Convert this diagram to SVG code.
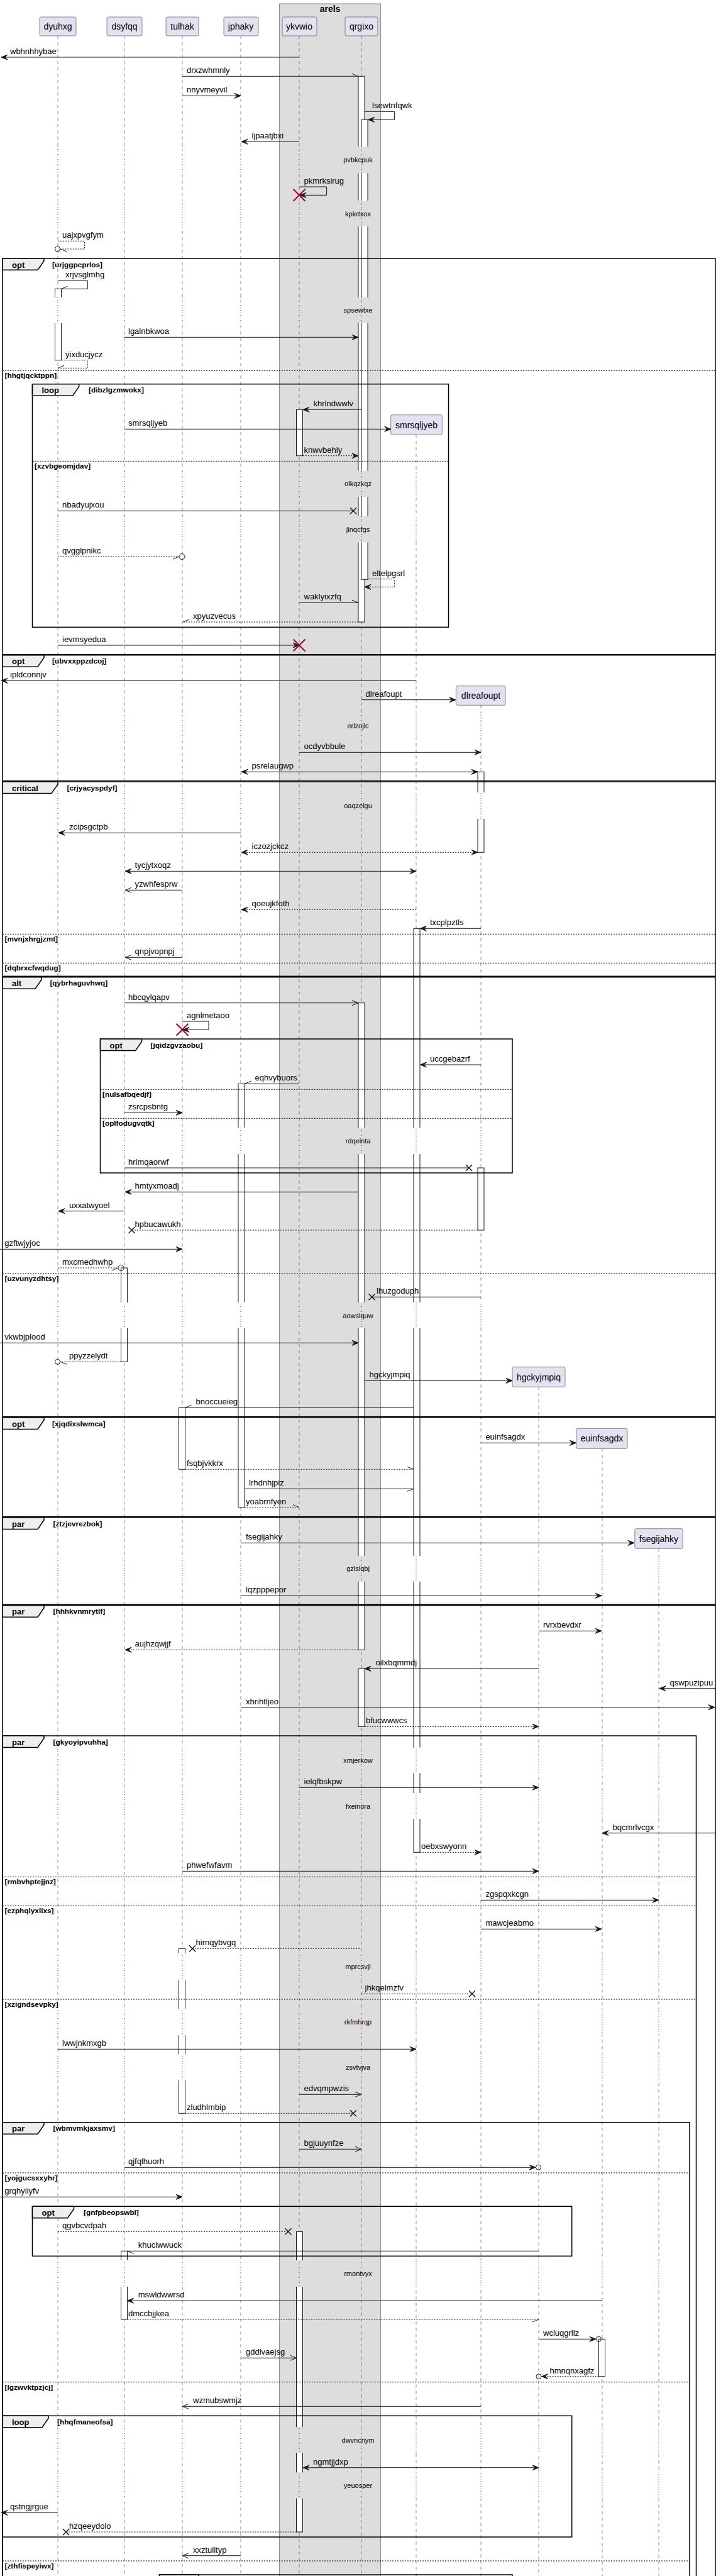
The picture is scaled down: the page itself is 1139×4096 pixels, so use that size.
<svg xmlns="http://www.w3.org/2000/svg" width="1139" height="4096" viewBox="0 0 1139 4096">
<style>
text{font-family:"Liberation Sans",Arial,sans-serif;fill:#000}
.pb{fill:#E2E2F0;stroke:#181818;stroke-width:0.5}
.pt{font-size:14px;text-anchor:middle}
.ll{stroke:#181818;stroke-width:0.5;stroke-dasharray:5,5}
.lld{stroke:#A80036;stroke-width:1;stroke-dasharray:1,3}
.act{fill:#fff;stroke:#181818;stroke-width:1}
.m{fill:none;stroke:#181818;stroke-width:1}
.d{stroke-dasharray:2,2}
.ah{fill:#181818;stroke:#181818;stroke-width:1}
.ml{font-size:13px}
.dt{font-size:11px;text-anchor:middle}
.fr{fill:none;stroke:#000;stroke-width:1.5}
.tab{fill:#EEEEEE;stroke:#000;stroke-width:1.5}
.sep{stroke:#000;stroke-width:1;stroke-dasharray:2,2}
.gh{font-size:13px;font-weight:bold}
.gc{font-size:11.8px;font-weight:bold}
.dx{stroke:#A80036;stroke-width:2;fill:none}
.lx{stroke:#181818;stroke-width:1.5;fill:none}
.oc{fill:none;stroke:#181818;stroke-width:1}
</style>
<defs>
<mask id="mn" maskUnits="userSpaceOnUse" x="0" y="0" width="1139" height="4096">
<rect width="1139" height="4096" fill="#fff"/>
<g fill="#000">
<rect x="0" y="233" width="1139" height="42"/><rect x="0" y="319" width="1139" height="41"/><rect x="0" y="472.7" width="1139" height="41.3"/><rect x="0" y="748.7" width="1139" height="41.3"/><rect x="0" y="820.7" width="1139" height="41.6"/><rect x="0" y="1132.7" width="1139" height="41.6"/><rect x="0" y="1260" width="1139" height="42"/><rect x="0" y="1793.3" width="1139" height="41.7"/><rect x="0" y="2071" width="1139" height="41"/><rect x="0" y="2474" width="1139" height="40.7"/><rect x="0" y="2778.7" width="1139" height="40.6"/><rect x="0" y="2851" width="1139" height="41"/><rect x="0" y="3106" width="1139" height="42"/><rect x="0" y="3194" width="1139" height="42.3"/><rect x="0" y="3266.3" width="1139" height="41.7"/><rect x="0" y="3594" width="1139" height="42"/><rect x="0" y="3859.3" width="1139" height="41"/><rect x="0" y="3931.3" width="1139" height="41.4"/>
</g>
</mask>
<mask id="md" maskUnits="userSpaceOnUse" x="0" y="0" width="1139" height="4096">
<rect width="1139" height="4096" fill="#000"/>
<g fill="#fff">
<rect x="0" y="233" width="1139" height="42"/><rect x="0" y="319" width="1139" height="41"/><rect x="0" y="472.7" width="1139" height="41.3"/><rect x="0" y="748.7" width="1139" height="41.3"/><rect x="0" y="820.7" width="1139" height="41.6"/><rect x="0" y="1132.7" width="1139" height="41.6"/><rect x="0" y="1260" width="1139" height="42"/><rect x="0" y="1793.3" width="1139" height="41.7"/><rect x="0" y="2071" width="1139" height="41"/><rect x="0" y="2474" width="1139" height="40.7"/><rect x="0" y="2778.7" width="1139" height="40.6"/><rect x="0" y="2851" width="1139" height="41"/><rect x="0" y="3106" width="1139" height="42"/><rect x="0" y="3194" width="1139" height="42.3"/><rect x="0" y="3266.3" width="1139" height="41.7"/><rect x="0" y="3594" width="1139" height="42"/><rect x="0" y="3859.3" width="1139" height="41"/><rect x="0" y="3931.3" width="1139" height="41.4"/>
</g>
</mask>
</defs>
<rect width="1139" height="4096" fill="#fff"/>
<g id="box-arels">
<rect x="444.6" y="6" width="161" height="4100" fill="#DDDDDD" stroke="#888" stroke-width="1"/>
<text x="525" y="19" font-size="14" font-weight="bold" text-anchor="middle">arels</text>
</g>
<g id="lifelines">
<g class="ll" mask="url(#mn)">
<line x1="92" y1="57" x2="92" y2="4096"/><line x1="198" y1="57" x2="198" y2="4096"/><line x1="290" y1="57" x2="290" y2="4096"/><line x1="383" y1="57" x2="383" y2="4096"/><line x1="476" y1="57" x2="476" y2="4096"/><line x1="575" y1="57" x2="575" y2="4096"/><line x1="662" y1="691.3" x2="662" y2="4096"/><line x1="765" y1="1121.3" x2="765" y2="4096"/><line x1="857" y1="2205.3" x2="857" y2="4096"/><line x1="958" y1="2303.3" x2="958" y2="4096"/><line x1="1048" y1="2462.3" x2="1048" y2="4096"/>
</g>
<g class="lld" mask="url(#md)">
<line x1="92" y1="57" x2="92" y2="4096"/><line x1="198" y1="57" x2="198" y2="4096"/><line x1="290" y1="57" x2="290" y2="4096"/><line x1="383" y1="57" x2="383" y2="4096"/><line x1="476" y1="57" x2="476" y2="4096"/><line x1="575" y1="57" x2="575" y2="4096"/><line x1="662" y1="691.3" x2="662" y2="4096"/><line x1="765" y1="1121.3" x2="765" y2="4096"/><line x1="857" y1="2205.3" x2="857" y2="4096"/><line x1="958" y1="2303.3" x2="958" y2="4096"/><line x1="1048" y1="2462.3" x2="1048" y2="4096"/>
</g>
</g>
<g id="p-dyuhxg"><rect class="pb" x="63" y="27" width="58" height="30" rx="2.5"/><text class="pt" x="92" y="47">dyuhxg</text></g>
<g id="p-dsyfqq"><rect class="pb" x="170" y="27" width="56" height="30" rx="2.5"/><text class="pt" x="198" y="47">dsyfqq</text></g>
<g id="p-tulhak"><rect class="pb" x="264" y="27" width="52" height="30" rx="2.5"/><text class="pt" x="290" y="47">tulhak</text></g>
<g id="p-jphaky"><rect class="pb" x="356" y="27" width="55" height="30" rx="2.5"/><text class="pt" x="383" y="47">jphaky</text></g>
<g id="p-ykvwio"><rect class="pb" x="449" y="27" width="55" height="30" rx="2.5"/><text class="pt" x="476" y="47">ykvwio</text></g>
<g id="p-qrgixo"><rect class="pb" x="549" y="27" width="52" height="30" rx="2.5"/><text class="pt" x="575" y="47">qrgixo</text></g>
<g id="p-smrsqljyeb"><rect class="pb" x="621.7" y="659.7" width="81.6" height="31.6" rx="2.5"/><text class="pt" x="662.5" y="680.5">smrsqljyeb</text></g>
<g id="p-dlreafoupt"><rect class="pb" x="725.4" y="1090.7" width="78.6" height="30.6" rx="2.5"/><text class="pt" x="765" y="1111">dlreafoupt</text></g>
<g id="p-hgckyjmpiq"><rect class="pb" x="815" y="2173.7" width="84" height="31.6" rx="2.5"/><text class="pt" x="857" y="2194.5">hgckyjmpiq</text></g>
<g id="p-euinfsagdx"><rect class="pb" x="916.5" y="2271.3" width="81.5" height="32" rx="2.5"/><text class="pt" x="957.5" y="2292.3">euinfsagdx</text></g>
<g id="p-fsegijahky"><rect class="pb" x="1009.8" y="2430.7" width="76.4" height="31.6" rx="2.5"/><text class="pt" x="1048" y="2451.5">fsegijahky</text></g>
<g id="activations" mask="url(#mn)">
<rect class="act" x="570" y="121.3" width="10" height="867.7"/>
<rect class="act" x="575" y="190.3" width="10" height="731"/>
<rect class="act" x="87.5" y="459.3" width="10" height="113.4"/>
<rect class="act" x="471.5" y="651.3" width="10" height="73.4"/>
<rect class="act" x="760" y="1227.3" width="10" height="128"/>
<rect class="act" x="658" y="1476.3" width="10" height="1469"/>
<rect class="act" x="570" y="1594.7" width="10" height="1028.6"/>
<rect class="act" x="379" y="1723.3" width="10" height="673.4"/>
<rect class="act" x="760" y="1857" width="10" height="99"/>
<rect class="act" x="192.5" y="2016" width="10" height="149.3"/>
<rect class="act" x="284.5" y="2238.3" width="10" height="98"/>
<rect class="act" x="570" y="2653.3" width="10" height="92"/>
<rect class="act" x="284.5" y="3098.3" width="10" height="262"/>
<rect class="act" x="471.5" y="3548.3" width="10" height="477.7"/>
<rect class="act" x="192.5" y="3579.3" width="10" height="108.7"/>
<rect class="act" x="952.5" y="3719.3" width="10" height="59.4"/>
</g>
<g id="frames">
<rect class="fr" x="4" y="411" width="1134" height="629.7"/>
<path class="tab" d="M4,411H70V415L60,429.3H4Z"/><text class="gh" x="19" y="425.5">opt</text><text class="gc" x="83" y="424.5">[urjggpcprlos]</text>
<line class="sep" x1="4" y1="589.3" x2="1138" y2="589.3"/><text class="gc" x="7.5" y="601.3">[hhgtjqcktppn]</text>
<rect class="fr" x="51.5" y="610.7" width="662" height="386.6"/>
<path class="tab" d="M51.5,610.7H125.7V614.7L115.7,629.3H51.5Z"/><text class="gh" x="66.5" y="625.2">loop</text><text class="gc" x="141" y="624.2">[dibzlgzmwokx]</text>
<line class="sep" x1="51.5" y1="733.3" x2="713.5" y2="733.3"/><text class="gc" x="55" y="745.3">[xzvbgeomjdav]</text>
<rect class="fr" x="4" y="1041.7" width="1134" height="200"/>
<path class="tab" d="M4,1041.7H70V1045.7L60,1060.2H4Z"/><text class="gh" x="19" y="1056.2">opt</text><text class="gc" x="83" y="1055.2">[ubvxxppzdcoj]</text>
<rect class="fr" x="4" y="1243" width="1134" height="309.3"/>
<path class="tab" d="M4,1243H92V1247L82,1261.5H4Z"/><text class="gh" x="19" y="1257.5">critical</text><text class="gc" x="106.5" y="1256.5">[crjyacyspdyf]</text>
<line class="sep" x1="4" y1="1485.3" x2="1138" y2="1485.3"/><text class="gc" x="7.5" y="1497.3">[mvnjxhrgjzmt]</text>
<line class="sep" x1="4" y1="1531.3" x2="1138" y2="1531.3"/><text class="gc" x="7.5" y="1543.3">[dqbrxcfwqdug]</text>
<rect class="fr" x="4" y="1553.7" width="1134" height="699"/>
<path class="tab" d="M4,1553.7H66V1557.7L56,1572.2H4Z"/><text class="gh" x="19" y="1568.2">alt</text><text class="gc" x="79.4" y="1567.2">[qybrhaguvhwq]</text>
<line class="sep" x1="4" y1="2025" x2="1138" y2="2025"/><text class="gc" x="7.5" y="2037">[uzvunyzdhtsy]</text>
<rect class="fr" x="159.5" y="1652" width="655.5" height="213"/>
<path class="tab" d="M159.5,1652H225.6V1656L215.6,1670.5H159.5Z"/><text class="gh" x="174.5" y="1666.5">opt</text><text class="gc" x="239.6" y="1665.5">[jqidzgvzaobu]</text>
<line class="sep" x1="159.5" y1="1732.3" x2="815" y2="1732.3"/><text class="gc" x="163" y="1744.3">[nulsafbqedjf]</text>
<line class="sep" x1="159.5" y1="1778.3" x2="815" y2="1778.3"/><text class="gc" x="163" y="1790.3">[oplfodugvqtk]</text>
<rect class="fr" x="4" y="2254" width="1134" height="157.7"/>
<path class="tab" d="M4,2254H70V2258L60,2272.5H4Z"/><text class="gh" x="19" y="2268.5">opt</text><text class="gc" x="83" y="2267.5">[xjqdixslwmca]</text>
<rect class="fr" x="4" y="2413" width="1134" height="138.3"/>
<path class="tab" d="M4,2413H70V2417L60,2431.5H4Z"/><text class="gh" x="19" y="2427.5">par</text><text class="gc" x="84.5" y="2426.5">[ztzjevrezbok]</text>
<rect class="fr" x="4" y="2552.7" width="1134" height="1600"/>
<path class="tab" d="M4,2552.7H70V2556.7L60,2571.2H4Z"/><text class="gh" x="19" y="2567.2">par</text><text class="gc" x="84.5" y="2566.2">[hhhkvnmrytlf]</text>
<rect class="fr" x="4" y="2760" width="1103.5" height="1400"/>
<path class="tab" d="M4,2760H70V2764L60,2778.5H4Z"/><text class="gh" x="19" y="2774.5">par</text><text class="gc" x="84.5" y="2773.5">[gkyoyipvuhha]</text>
<line class="sep" x1="4" y1="2984.3" x2="1107.5" y2="2984.3"/><text class="gc" x="7.5" y="2996.3">[rmbvhptejjnz]</text>
<line class="sep" x1="4" y1="3030.3" x2="1107.5" y2="3030.3"/><text class="gc" x="7.5" y="3042.3">[ezphqlyxlixs]</text>
<line class="sep" x1="4" y1="3179" x2="1107.5" y2="3179"/><text class="gc" x="7.5" y="3191">[xzigndsevpky]</text>
<rect class="fr" x="4" y="3374.7" width="1093" height="800"/>
<path class="tab" d="M4,3374.7H70V3378.7L60,3393.2H4Z"/><text class="gh" x="19" y="3389.2">par</text><text class="gc" x="84.5" y="3388.2">[wbmvmkjaxsmv]</text>
<line class="sep" x1="4" y1="3455" x2="1097" y2="3455"/><text class="gc" x="7.5" y="3467">[yojgucsxxyhr]</text>
<line class="sep" x1="4" y1="3787.7" x2="1097" y2="3787.7"/><text class="gc" x="7.5" y="3799.7">[lgzwvktpzjcj]</text>
<line class="sep" x1="4" y1="4072" x2="1097" y2="4072"/><text class="gc" x="7.5" y="4084">[zthfispeyiwx]</text>
<rect class="fr" x="51.5" y="3508.3" width="858.2" height="79"/>
<path class="tab" d="M51.5,3508.3H117.6V3512.3L107.6,3526.8H51.5Z"/><text class="gh" x="66.5" y="3522.8">opt</text><text class="gc" x="133" y="3521.8">[gnfpbeopswbl]</text>
<rect class="fr" x="4" y="3841.3" width="905.7" height="192.7"/>
<path class="tab" d="M4,3841.3H77V3845.3L67,3859.8H4Z"/><text class="gh" x="19" y="3855.8">loop</text><text class="gc" x="91" y="3854.8">[hhqfmaneofsa]</text>
<rect class="fr" x="253.5" y="4094" width="561.5" height="60"/>
<path class="tab" d="M253.5,4094H316V4098L306,4112.5H253.5Z"/>
</g>
<g id="delays">
<text class="dt" x="569.5" y="258">pvbkcpuk</text>
<text class="dt" x="569.5" y="343.5">kpkrtxox</text>
<text class="dt" x="569.5" y="497.4">spsewtxe</text>
<text class="dt" x="569.5" y="773.4">olkqzkqz</text>
<text class="dt" x="569.5" y="845.5">jinqcfgs</text>
<text class="dt" x="569.5" y="1157.5">erlzojlc</text>
<text class="dt" x="569.5" y="1285">oaqzelgu</text>
<text class="dt" x="569.5" y="1818">rdqeinta</text>
<text class="dt" x="569.5" y="2095.5">aowslquw</text>
<text class="dt" x="569.5" y="2498.4">gzlslqbj</text>
<text class="dt" x="569.5" y="2803">xmjerkow</text>
<text class="dt" x="569.5" y="2875.5">fxeinora</text>
<text class="dt" x="569.5" y="3131">mprcsvjl</text>
<text class="dt" x="569.5" y="3219">rkfmhrqp</text>
<text class="dt" x="569.5" y="3291">zsvtvjva</text>
<text class="dt" x="569.5" y="3619">rmontvyx</text>
<text class="dt" x="569.5" y="3884">dwvncnym</text>
<text class="dt" x="569.5" y="3956">yeuosper</text>
</g>
<g id="connectors">
<path class="m" d="M476,91H2"/><polygon class="ah" points="12,87 2,91 12,95 8,91"/><text class="ml" x="16" y="86">wbhnhhybae</text>
<path class="m" d="M290,121.3H570M560,117.3L570,121.3"/><text class="ml" x="297" y="116">drxzwhmnly</text>
<path class="m" d="M290,152.3H383"/><polygon class="ah" points="373,148.3 383,152.3 373,156.3 377,152.3"/><text class="ml" x="297" y="147">nnyvmeyvil</text>
<path class="m" d="M580,177.3H627.6V190.3H585.6"/><polygon class="ah" points="595.6,186.3 585.6,190.3 595.6,194.3 591.6,190.3"/><text class="ml" x="592" y="172">lsewtnfqwk</text>
<path class="m" d="M476,225.3H384"/><polygon class="ah" points="394,221.3 384,225.3 394,229.3 390,225.3"/><text class="ml" x="400.5" y="220">ljpaatjbxi</text>
<path class="m" d="M476,297H519.6V310.3H477"/><polygon class="ah" points="487,306.3 477,310.3 487,314.3 483,310.3"/><path class="dx" d="M466.5,300.8L485.5,319.8M466.5,319.8L485.5,300.8"/><text class="ml" x="483.5" y="292">pkmrksirug</text>
<path class="m d" d="M92,383.3H134.5V396H96"/><path class="m" d="M96,396L106,400"/><circle class="oc" cx="91.5" cy="396" r="4"/><text class="ml" x="99" y="378">uajxpvgfym</text>
<path class="m" d="M92,446.3H139.6V459.3H97.5M97.5,459.3L107.5,455.3"/><text class="ml" x="104" y="441">xrjvsglmhg</text>
<path class="m" d="M198,536.3H570"/><polygon class="ah" points="560,532.3 570,536.3 560,540.3 564,536.3"/><text class="ml" x="204" y="531">lgalnbkwoa</text>
<path class="m d" d="M97.5,572.7H139.6V585.3H92"/><path class="m" d="M92,585.3L102,581.3"/><text class="ml" x="104" y="567.7">yixducjycz</text>
<path class="m" d="M575,651.3H482"/><polygon class="ah" points="492,647.3 482,651.3 492,655.3 488,651.3"/><text class="ml" x="498.5" y="646">khrlndwwlv</text>
<path class="m" d="M198,682.3H621.7"/><polygon class="ah" points="611.7,678.3 621.7,682.3 611.7,686.3 615.7,682.3"/><text class="ml" x="204" y="677">smrsqljyeb</text>
<path class="m d" d="M482,724.7H570"/><polygon class="ah" points="560,720.7 570,724.7 560,728.7 564,724.7"/><text class="ml" x="483.5" y="719.7">knwvbehly</text>
<path class="m" d="M92,812.3H562"/><path class="lx" d="M557,807.3L567,817.3M557,817.3L567,807.3"/><text class="ml" x="99" y="807">nbadyujxou</text>
<path class="m d" d="M92,885H285"/><path class="m" d="M275,889L285,885"/><circle class="oc" cx="289.5" cy="885" r="4.5"/><text class="ml" x="99" y="880">qvgglpnikc</text>
<path class="m d" d="M585.5,920.7H627.6V933.3H580"/><polygon class="ah" points="590,929.3 580,933.3 590,937.3 586,933.3"/><text class="ml" x="592" y="915.7">eltelpgsrl</text>
<path class="m" d="M476,958.3H570M560,954.3L570,958.3"/><text class="ml" x="483.5" y="953">waklyixzfq</text>
<path class="m d" d="M570,989H291"/><path class="m" d="M291,989L301,985"/><text class="ml" x="307" y="984">xpyuzvecus</text>
<path class="m" d="M92,1026H476"/><polygon class="ah" points="466,1022 476,1026 466,1030 470,1026"/><path class="dx" d="M466.5,1016.5L485.5,1035.5M466.5,1035.5L485.5,1016.5"/><text class="ml" x="99" y="1021">ievmsyedua</text>
<path class="m" d="M662,1082.3H2"/><polygon class="ah" points="12,1078.3 2,1082.3 12,1086.3 8,1082.3"/><text class="ml" x="16" y="1077">ipldconnjv</text>
<path class="m" d="M575,1112.7H725"/><polygon class="ah" points="715,1108.7 725,1112.7 715,1116.7 719,1112.7"/><text class="ml" x="581.6" y="1107.7">dlreafoupt</text>
<path class="m" d="M476,1196.3H765"/><polygon class="ah" points="755,1192.3 765,1196.3 755,1200.3 759,1196.3"/><text class="ml" x="483.5" y="1191">ocdyvbbule</text>
<path class="m" d="M384,1227.3H760"/><polygon class="ah" points="394,1223.3 384,1227.3 394,1231.3 390,1227.3"/><polygon class="ah" points="750,1223.3 760,1227.3 750,1231.3 754,1227.3"/><text class="ml" x="400.5" y="1222">psrelaugwp</text>
<path class="m" d="M383,1324.3H93"/><polygon class="ah" points="103,1320.3 93,1324.3 103,1328.3 99,1324.3"/><text class="ml" x="110" y="1319">zcipsgctpb</text>
<path class="m d" d="M384,1355.3H760"/><polygon class="ah" points="394,1351.3 384,1355.3 394,1359.3 390,1355.3"/><polygon class="ah" points="750,1351.3 760,1355.3 750,1359.3 754,1355.3"/><text class="ml" x="400.5" y="1350">iczozjckcz</text>
<path class="m" d="M199,1385.3H662"/><polygon class="ah" points="209,1381.3 199,1385.3 209,1389.3 205,1385.3"/><polygon class="ah" points="652,1381.3 662,1385.3 652,1389.3 656,1385.3"/><text class="ml" x="214.6" y="1380">tycjytxoqz</text>
<path class="m" d="M290,1415.3H199M209,1411.3L199,1415.3L209,1419.3"/><text class="ml" x="214.6" y="1410">yzwhfesprw</text>
<path class="m d" d="M662,1446.3H384"/><polygon class="ah" points="394,1442.3 384,1446.3 394,1450.3 390,1446.3"/><text class="ml" x="400.5" y="1441">qoeujkfoth</text>
<path class="m" d="M765,1476.3H668.5"/><polygon class="ah" points="678.5,1472.3 668.5,1476.3 678.5,1480.3 674.5,1476.3"/><text class="ml" x="684" y="1471">txcplpztls</text>
<path class="m" d="M290,1522.3H199M209,1518.3L199,1522.3L209,1526.3"/><text class="ml" x="214.6" y="1517">qnpjvopnpj</text>
<path class="m" d="M198,1594.7H570M560,1590.7L570,1594.7L560,1598.7"/><text class="ml" x="204" y="1589.7">hbcqylqapv</text>
<path class="m" d="M290,1624H332V1637.3H291"/><polygon class="ah" points="301,1633.3 291,1637.3 301,1641.3 297,1637.3"/><path class="dx" d="M280.5,1627.8L299.5,1646.8M280.5,1646.8L299.5,1627.8"/><text class="ml" x="297" y="1619">agnlmetaoo</text>
<path class="m" d="M765,1693H668.5"/><polygon class="ah" points="678.5,1689 668.5,1693 678.5,1697 674.5,1693"/><text class="ml" x="684" y="1688">uccgebazrf</text>
<path class="m" d="M476,1723.3H389M389,1723.3L399,1719.3"/><text class="ml" x="405.6" y="1718">eqhvybuors</text>
<path class="m" d="M198,1769.3H290"/><polygon class="ah" points="280,1765.3 290,1769.3 280,1773.3 284,1769.3"/><text class="ml" x="204" y="1764">zsrcpsbntg</text>
<path class="m" d="M198,1857H746"/><path class="lx" d="M741,1852L751,1862M741,1862L751,1852"/><text class="ml" x="204" y="1852">hrimqaorwf</text>
<path class="m" d="M570,1895.3H199"/><polygon class="ah" points="209,1891.3 199,1895.3 209,1899.3 205,1895.3"/><text class="ml" x="214.6" y="1890">hmtyxmoadj</text>
<path class="m" d="M198,1925.7H93"/><polygon class="ah" points="103,1921.7 93,1925.7 103,1929.7 99,1925.7"/><text class="ml" x="110" y="1920.7">uxxatwyoel</text>
<path class="m d" d="M760,1956H209.5"/><path class="lx" d="M204.5,1951L214.5,1961M204.5,1961L214.5,1951"/><text class="ml" x="214.6" y="1951">hpbucawukh</text>
<path class="m" d="M0,1986.3H290"/><polygon class="ah" points="280,1982.3 290,1986.3 280,1990.3 284,1986.3"/><text class="ml" x="7.3" y="1981">gzftwjyjoc</text>
<path class="m d" d="M92,2016H188"/><path class="m" d="M178,2020L188,2016"/><circle class="oc" cx="192.5" cy="2016" r="4.5"/><text class="ml" x="99" y="2011">mxcmedhwhp</text>
<path class="m" d="M765,2062.3H591.5"/><path class="lx" d="M586.5,2057.3L596.5,2067.3M586.5,2067.3L596.5,2057.3"/><text class="ml" x="599" y="2057">lhuzgoduph</text>
<path class="m" d="M0,2135.3H570"/><polygon class="ah" points="560,2131.3 570,2135.3 560,2139.3 564,2135.3"/><text class="ml" x="7.3" y="2130">vkwbjplood</text>
<path class="m d" d="M192.5,2165.3H96"/><path class="m" d="M96,2165.3L106,2169.3"/><circle class="oc" cx="91.5" cy="2165.3" r="4"/><text class="ml" x="110" y="2160">ppyzzelydt</text>
<path class="m" d="M580,2195.3H815"/><polygon class="ah" points="805,2191.3 815,2195.3 805,2199.3 809,2195.3"/><text class="ml" x="587.5" y="2190">hgckyjmpiq</text>
<path class="m" d="M658,2238.3H294.5M294.5,2238.3L304.5,2234.3"/><text class="ml" x="311.6" y="2233">bnoccueieg</text>
<path class="m" d="M765,2294.3H916.5"/><polygon class="ah" points="906.5,2290.3 916.5,2294.3 906.5,2298.3 910.5,2294.3"/><text class="ml" x="772.4" y="2289">euinfsagdx</text>
<path class="m d" d="M294.5,2336.3H658"/><path class="m" d="M648,2332.3L658,2336.3"/><text class="ml" x="297" y="2331">fsqbjvkkrx</text>
<path class="m" d="M389,2367.3H658M648,2371.3L658,2367.3"/><text class="ml" x="396" y="2362">lrhdnhjpiz</text>
<path class="m d" d="M389,2396.7H476"/><path class="m" d="M466,2392.7L476,2396.7"/><text class="ml" x="391" y="2391.7">yoabrnfyen</text>
<path class="m" d="M383,2453.3H1009"/><polygon class="ah" points="999,2449.3 1009,2453.3 999,2457.3 1003,2453.3"/><text class="ml" x="391" y="2448">fsegijahky</text>
<path class="m" d="M383,2537.3H957"/><polygon class="ah" points="947,2533.3 957,2537.3 947,2541.3 951,2537.3"/><text class="ml" x="391" y="2532">lqzpppepor</text>
<path class="m" d="M857,2593.3H957"/><polygon class="ah" points="947,2589.3 957,2593.3 947,2597.3 951,2593.3"/><text class="ml" x="864" y="2588">rvrxbevdxr</text>
<path class="m d" d="M570,2623.3H199"/><polygon class="ah" points="209,2619.3 199,2623.3 209,2627.3 205,2623.3"/><text class="ml" x="214.6" y="2618">aujhzqwjjf</text>
<path class="m" d="M857,2653.3H580"/><polygon class="ah" points="590,2649.3 580,2653.3 590,2657.3 586,2653.3"/><text class="ml" x="597.5" y="2648">oilxbqmmdj</text>
<path class="m" d="M1139,2684.7H1049"/><polygon class="ah" points="1059,2680.7 1049,2684.7 1059,2688.7 1055,2684.7"/><text class="ml" x="1065.6" y="2679.7">qswpuzipuu</text>
<path class="m" d="M383,2714.7H1137"/><polygon class="ah" points="1127,2710.7 1137,2714.7 1127,2718.7 1131,2714.7"/><text class="ml" x="391" y="2709.7">xhrihtljeo</text>
<path class="m d" d="M580,2745.3H857"/><polygon class="ah" points="847,2741.3 857,2745.3 847,2749.3 851,2745.3"/><text class="ml" x="582" y="2740">bfucwwwcs</text>
<path class="m" d="M476,2842.3H857"/><polygon class="ah" points="847,2838.3 857,2842.3 847,2846.3 851,2842.3"/><text class="ml" x="483.5" y="2837">ielqfbskpw</text>
<path class="m" d="M1139,2914.7H958"/><polygon class="ah" points="968,2910.7 958,2914.7 968,2918.7 964,2914.7"/><text class="ml" x="974.5" y="2909.7">bqcmrlvcgx</text>
<path class="m d" d="M668,2945.3H765"/><polygon class="ah" points="755,2941.3 765,2945.3 755,2949.3 759,2945.3"/><text class="ml" x="670" y="2940">oebxswyonn</text>
<path class="m" d="M290,2975.3H857"/><polygon class="ah" points="847,2971.3 857,2975.3 847,2979.3 851,2975.3"/><text class="ml" x="297" y="2970">phwefwfavm</text>
<path class="m" d="M765,3021.3H1048"/><polygon class="ah" points="1038,3017.3 1048,3021.3 1038,3025.3 1042,3021.3"/><text class="ml" x="772.4" y="3016">zgspqxkcgn</text>
<path class="m" d="M765,3067.3H957"/><polygon class="ah" points="947,3063.3 957,3067.3 947,3071.3 951,3067.3"/><text class="ml" x="772.4" y="3062">mawcjeabmo</text>
<path class="m d" d="M572,3098.3H306"/><path class="lx" d="M301,3093.3L311,3103.3M301,3103.3L311,3093.3"/><text class="ml" x="311.6" y="3093">hirnqybvgq</text>
<path class="m d" d="M575,3170.3H751"/><path class="lx" d="M746,3165.3L756,3175.3M746,3175.3L756,3165.3"/><text class="ml" x="580.6" y="3165">jhkqelmzfv</text>
<path class="m" d="M92,3258.3H662"/><polygon class="ah" points="652,3254.3 662,3258.3 652,3262.3 656,3258.3"/><text class="ml" x="99" y="3253">lwwjnkmxgb</text>
<path class="m" d="M476,3330.3H575M565,3326.3L575,3330.3L565,3334.3"/><text class="ml" x="483.5" y="3325">edvqmpwzis</text>
<path class="m d" d="M294.5,3360.3H562"/><path class="lx" d="M557,3355.3L567,3365.3M557,3365.3L567,3355.3"/><text class="ml" x="297" y="3355">zludhlmbip</text>
<path class="m" d="M476,3417.3H575M565,3413.3L575,3417.3L565,3421.3"/><text class="ml" x="483.5" y="3412">bgjuuynfze</text>
<path class="m" d="M198,3446.3H852"/><polygon class="ah" points="842,3442.3 852,3446.3 842,3450.3 846,3446.3"/><circle class="oc" cx="856.5" cy="3446.3" r="4"/><text class="ml" x="204" y="3441">qjfqlhuorh</text>
<path class="m" d="M0,3493.3H290"/><polygon class="ah" points="280,3489.3 290,3493.3 280,3497.3 284,3493.3"/><text class="ml" x="7.3" y="3488">grqhyiiyfv</text>
<path class="m d" d="M92,3548.3H458.5"/><path class="lx" d="M453.5,3543.3L463.5,3553.3M453.5,3553.3L463.5,3543.3"/><text class="ml" x="99" y="3543">qgvbcvdpah</text>
<path class="m" d="M857,3579.3H202.5M202.5,3579.3L212.5,3583.3"/><text class="ml" x="219.7" y="3574">khuciwwuck</text>
<path class="m" d="M958,3658.3H202.5"/><polygon class="ah" points="212.5,3654.3 202.5,3658.3 212.5,3662.3 208.5,3658.3"/><text class="ml" x="219.7" y="3653">mswldwwrsd</text>
<path class="m d" d="M202.5,3688H857"/><path class="m" d="M847,3692L857,3688"/><text class="ml" x="204" y="3683">dmccbjjkea</text>
<path class="m" d="M857,3719.3H948"/><polygon class="ah" points="938,3715.3 948,3719.3 938,3723.3 942,3719.3"/><circle class="oc" cx="952.5" cy="3719.3" r="4"/><text class="ml" x="864" y="3714">wcluqgrllz</text>
<path class="m" d="M383,3749.3H471.5M461.5,3745.3L471.5,3749.3L461.5,3753.3"/><text class="ml" x="391" y="3744">gddlvaejsg</text>
<path class="m d" d="M952.5,3778.7H861.5"/><polygon class="ah" points="871.5,3774.7 861.5,3778.7 871.5,3782.7 867.5,3778.7"/><circle class="oc" cx="857" cy="3778.7" r="4"/><text class="ml" x="874.5" y="3773.7">hmnqnxagfz</text>
<path class="m" d="M765,3826.3H290M300,3822.3L290,3826.3L300,3830.3"/><text class="ml" x="307" y="3821">wzmubswmjz</text>
<path class="m" d="M482,3923.7H857"/><polygon class="ah" points="492,3919.7 482,3923.7 492,3927.7 488,3923.7"/><polygon class="ah" points="847,3919.7 857,3923.7 847,3927.7 851,3923.7"/><text class="ml" x="498" y="3918.7">ngmtjjdxp</text>
<path class="m" d="M92,3995.3H2"/><polygon class="ah" points="12,3991.3 2,3995.3 12,3999.3 8,3995.3"/><text class="ml" x="16" y="3990">qstngjrgue</text>
<path class="m d" d="M471.5,4026H105"/><path class="lx" d="M100,4021L110,4031M100,4031L110,4021"/><text class="ml" x="110" y="4021">hzqeeydolo</text>
<path class="m" d="M383,4063.7H290M300,4059.7L290,4063.7L300,4067.7"/><text class="ml" x="307" y="4058.7">xxztulityp</text>
</g>
</svg>
